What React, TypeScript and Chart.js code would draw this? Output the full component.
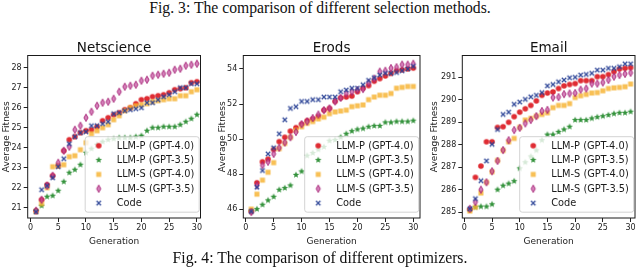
import React, { useEffect, useRef } from "react";
import { Chart, registerables } from "chart.js";

Chart.register(...registerables);
Chart.defaults.font.family = "'DejaVu Sans', sans-serif";
Chart.defaults.color = "#222";

// ---------- data ----------
const generations = [1, 2, 3, 4, 5, 6, 7, 8, 9, 10, 11, 12, 13, 14, 15, 16, 17, 18, 19, 20, 21, 22, 23, 24, 25, 26, 27, 28, 29, 30];
const xTickValues = [0, 5, 10, 15, 20, 25, 30];
const seriesLabels = ["LLM-P (GPT-4.0)", "LLM-P (GPT-3.5)", "LLM-S (GPT-4.0)", "LLM-S (GPT-3.5)", "Code"];
const panelTitles = ["Netscience", "Erods", "Email"];

const netLlmP4 = [20.85, 21.4, 22.15, 22.6, 23.1, 23.85, 24.4, 24.55, 24.75, 24.85, 24.9, 25.05, 25.35, 25.5, 25.65, 25.75, 25.9, 26.0, 26.2, 26.4, 26.45, 26.55, 26.6, 26.65, 26.75, 26.9, 26.95, 27.0, 27.25, 27.3];
const netLlmP35 = [20.85, 21.1, 21.55, 21.6, 21.85, 22.3, 22.75, 22.9, 23.15, 23.75, 23.95, 24.15, 24.3, 24.4, 24.45, 24.5, 24.5, 24.5, 24.55, 24.6, 24.85, 25.0, 25.0, 25.05, 25.05, 25.05, 25.15, 25.3, 25.45, 25.65];
const netLlmS4 = [20.8, 21.2, 22.0, 23.05, 23.1, 23.15, 23.55, 23.6, 23.9, 24.25, 24.7, 24.85, 25.0, 25.15, 25.4, 25.6, 25.85, 26.0, 26.1, 26.15, 26.2, 26.3, 26.35, 26.4, 26.45, 26.45, 26.6, 26.6, 26.8, 26.9];
const netLlmS35 = [20.85, 21.4, 22.1, 22.6, 23.25, 23.85, 24.05, 24.9, 25.1, 25.5, 25.8, 26.1, 26.25, 26.3, 26.45, 26.8, 27.05, 27.1, 27.15, 27.35, 27.4, 27.6, 27.65, 27.7, 27.75, 27.9, 27.95, 28.1, 28.15, 28.2];
const netCode = [20.8, 21.9, 22.1, 22.5, 23.05, 23.45, 24.2, 24.55, 24.75, 24.8, 25.1, 25.1, 25.2, 25.3, 25.7, 25.75, 25.85, 25.9, 25.95, 26.0, 26.25, 26.25, 26.4, 26.55, 26.65, 26.8, 27.0, 27.0, 27.2, 27.2];
const netYTicks = [21, 22, 23, 24, 25, 26, 27, 28];

const erLlmP4 = [45.87, 47.5, 48.7, 48.85, 49.4, 49.85, 50.1, 50.45, 50.65, 50.85, 51.05, 51.15, 51.3, 51.65, 51.75, 52.15, 52.35, 52.4, 52.45, 52.7, 52.9, 53.05, 53.3, 53.45, 53.6, 53.75, 53.9, 53.95, 54.0, 54.05];
const erLlmP35 = [45.87, 46.0, 46.25, 46.5, 46.7, 47.1, 47.2, 47.35, 47.95, 48.15, 49.05, 49.2, 49.4, 49.55, 49.9, 49.95, 50.1, 50.3, 50.45, 50.55, 50.6, 50.7, 50.75, 50.75, 50.95, 50.95, 51.0, 51.0, 51.0, 51.05];
const erLlmS4 = [46.0, 46.85, 47.65, 48.1, 48.65, 49.45, 49.75, 50.1, 50.5, 50.7, 50.9, 51.0, 51.15, 51.25, 51.45, 51.55, 51.6, 51.65, 51.85, 51.9, 51.95, 52.25, 52.4, 52.5, 52.5, 52.6, 52.9, 52.95, 53.0, 53.0];
const erLlmS35 = [45.83, 47.35, 48.5, 48.7, 49.15, 49.5, 49.8, 50.1, 50.4, 50.85, 51.0, 51.2, 51.4, 51.65, 51.75, 52.15, 52.35, 52.6, 52.7, 52.8, 52.85, 53.2, 53.45, 53.85, 53.9, 54.05, 54.1, 54.25, 54.25, 54.3];
const erCode = [45.87, 47.25, 48.2, 49.15, 49.5, 50.3, 51.1, 51.75, 51.85, 52.15, 52.15, 52.25, 52.25, 52.4, 52.4, 52.4, 52.7, 52.8, 52.9, 52.9, 53.1, 53.35, 53.5, 53.65, 53.75, 53.75, 53.8, 53.9, 54.0, 54.15];
const erYTicks = [46, 48, 50, 52, 54];

const emLlmP4 = [285.12, 286.55, 287.05, 288.13, 288.13, 288.77, 288.8, 289.0, 289.25, 289.45, 289.6, 289.75, 289.95, 290.2, 290.3, 290.35, 290.5, 290.62, 290.68, 290.72, 290.85, 290.85, 290.85, 291.03, 291.03, 291.12, 291.25, 291.37, 291.4, 291.43];
const emLlmP35 = [285.12, 285.22, 285.25, 285.25, 285.35, 286.0, 286.18, 286.27, 286.38, 286.95, 287.22, 287.48, 287.75, 288.2, 288.45, 288.45, 288.57, 288.68, 288.8, 289.1, 289.1, 289.1, 289.17, 289.23, 289.27, 289.32, 289.38, 289.42, 289.42, 289.47];
const emLlmS4 = [285.05, 285.22, 285.85, 286.33, 286.8, 287.3, 287.75, 288.13, 288.28, 288.77, 289.1, 289.17, 289.27, 289.35, 289.42, 289.65, 289.75, 289.75, 289.83, 290.1, 290.18, 290.24, 290.3, 290.32, 290.4, 290.5, 290.53, 290.55, 290.58, 290.7];
const emLlmS35 = [285.15, 285.45, 286.0, 286.33, 286.82, 287.28, 287.76, 288.2, 288.65, 288.75, 288.95, 289.1, 289.27, 289.5, 289.55, 290.1, 290.12, 290.25, 290.28, 290.3, 290.45, 290.5, 290.72, 290.72, 290.77, 290.88, 291.03, 291.1, 291.15, 291.2];
const emCode = [285.15, 285.6, 286.4, 287.28, 288.02, 288.68, 289.35, 289.45, 289.8, 289.9, 290.02, 290.13, 290.2, 290.32, 290.62, 290.68, 290.8, 290.88, 290.98, 291.0, 291.1, 291.13, 291.18, 291.32, 291.32, 291.4, 291.4, 291.47, 291.6, 291.6];
const emYTicks = [285, 286, 287, 288, 289, 290, 291];

// ---------- markers ----------
type MarkerKind = "circle" | "star" | "square" | "diamond" | "x";
const markerKinds: MarkerKind[] = ["circle", "star", "square", "diamond", "x"];

function makeMarker(kind: MarkerKind): HTMLCanvasElement {
  const c = document.createElement("canvas");
  c.width = 12;
  c.height = 12;
  const ctx = c.getContext("2d")!;
  const cx = 6, cy = 6;
  ctx.lineJoin = "miter";
  if (kind === "circle") {
    ctx.beginPath();
    ctx.arc(cx, cy, 2.8, 0, Math.PI * 2);
    ctx.fillStyle = "rgba(220,26,34,0.92)";
    ctx.fill();
  } else if (kind === "star") {
    ctx.beginPath();
    for (let i = 0; i < 10; i++) {
      const r = i % 2 === 0 ? 3.4 : 1.5;
      const a = -Math.PI / 2 + (i * Math.PI) / 5;
      const px = cx + r * Math.cos(a), py = cy + r * Math.sin(a);
      if (i === 0) ctx.moveTo(px, py); else ctx.lineTo(px, py);
    }
    ctx.closePath();
    ctx.fillStyle = "rgba(40,140,48,0.95)";
    ctx.fill();
  } else if (kind === "square") {
    ctx.fillStyle = "rgba(246,178,48,0.82)";
    ctx.fillRect(cx - 2.5, cy - 2.5, 5, 5);
  } else if (kind === "diamond") {
    ctx.beginPath();
    ctx.moveTo(cx, cy - 3.7);
    ctx.lineTo(cx + 2.1, cy);
    ctx.lineTo(cx, cy + 3.7);
    ctx.lineTo(cx - 2.1, cy);
    ctx.closePath();
    ctx.fillStyle = "rgba(196,80,160,0.72)";
    ctx.fill();
    ctx.strokeStyle = "rgba(165,32,115,0.95)";
    ctx.lineWidth = 0.9;
    ctx.stroke();
  } else {
    ctx.beginPath();
    ctx.moveTo(cx - 2.2, cy - 2.2);
    ctx.lineTo(cx + 2.2, cy + 2.2);
    ctx.moveTo(cx + 2.2, cy - 2.2);
    ctx.lineTo(cx - 2.2, cy + 2.2);
    ctx.strokeStyle = "rgba(42,66,150,0.95)";
    ctx.lineWidth = 1.3;
    ctx.stroke();
  }
  return c;
}

// ---------- panels ----------
type PanelCfg = {
  title: string;
  series: number[][];
  yTicks: number[];
  left: number;
  width: number;
  plotLeft: number;
  plotRight: number;
  xMin: number;
  xMax: number;
  yMin: number;
  yMax: number;
  yTitlePad: number;
};

const PLOT_TOP = 55.5;
const PLOT_BOTTOM = 218;
const X_AXIS_H = 30;
const H = 273;

const panels: PanelCfg[] = [
  { title: panelTitles[0], series: [netLlmP4, netLlmP35, netLlmS4, netLlmS35, netCode], yTicks: netYTicks,
    left: 0, width: 210, plotLeft: 27.7, plotRight: 200.5, xMin: -0.5, xMax: 30.65, yMin: 20.485, yMax: 28.61, yTitlePad: 1.6 },
  { title: panelTitles[1], series: [erLlmP4, erLlmP35, erLlmS4, erLlmS35, erCode], yTicks: erYTicks,
    left: 210, width: 215, plotLeft: 243.3, plotRight: 420.7, xMin: -0.43, xMax: 31.2, yMin: 45.49, yMax: 54.77, yTitlePad: 7.3 },
  { title: panelTitles[2], series: [emLlmP4, emLlmP35, emLlmS4, emLlmS35, emCode], yTicks: emYTicks,
    left: 425, width: 215, plotLeft: 462.3, plotRight: 635, xMin: -0.36, xMax: 30.8, yMin: 284.74, yMax: 291.97, yTitlePad: 4.6 },
];

function roundRectPath(ctx: CanvasRenderingContext2D, x: number, y: number, w: number, h: number, r: number) {
  ctx.beginPath();
  ctx.moveTo(x + r, y);
  ctx.lineTo(x + w - r, y);
  ctx.arcTo(x + w, y, x + w, y + r, r);
  ctx.lineTo(x + w, y + h - r);
  ctx.arcTo(x + w, y + h, x + w - r, y + h, r);
  ctx.lineTo(x + r, y + h);
  ctx.arcTo(x, y + h, x, y + h - r, r);
  ctx.lineTo(x, y + r);
  ctx.arcTo(x, y, x + r, y, r);
  ctx.closePath();
}

function Panel({ cfg }: { cfg: PanelCfg }) {
  const ref = useRef<HTMLCanvasElement>(null);
  useEffect(() => {
    const markers = markerKinds.map(makeMarker);
    const decor = {
      id: "decor",
      afterDatasetsDraw(chart: any) {
        const ctx: CanvasRenderingContext2D = chart.ctx;
        const a = chart.chartArea;
        ctx.save();
        // frame
        ctx.strokeStyle = "#1a1a1a";
        ctx.lineWidth = 1;
        ctx.strokeRect(a.left, a.top, a.right - a.left, a.bottom - a.top);
        // title
        ctx.fillStyle = "#111";
        ctx.font = "13.5px 'DejaVu Sans', sans-serif";
        ctx.textAlign = "center";
        ctx.textBaseline = "alphabetic";
        ctx.fillText(cfg.title, (a.left + a.right) / 2, 51.5);
        // legend
        const lw = 114, lh = 75.5;
        const lx = a.right - 1.3 - lw;
        const ly = a.bottom - 5.8 - lh;
        roundRectPath(ctx, lx, ly, lw, lh, 2.5);
        ctx.fillStyle = "rgba(255,255,255,0.8)";
        ctx.fill();
        ctx.strokeStyle = "rgba(200,200,200,0.9)";
        ctx.lineWidth = 0.9;
        ctx.stroke();
        ctx.font = "9.8px 'DejaVu Sans', sans-serif";
        ctx.textAlign = "left";
        ctx.textBaseline = "middle";
        ctx.fillStyle = "#1a1a1a";
        seriesLabels.forEach((lab, i) => {
          const yy = ly + 9 + i * 14.35;
          const m = markers[i];
          ctx.drawImage(m, lx + 13.5 - m.width / 2, yy - m.height / 2);
          ctx.fillText(lab, lx + 31.5, yy + 0.5);
        });
        ctx.restore();
      },
    };
    const chart = new Chart(ref.current!, {
      type: "scatter",
      data: {
        datasets: cfg.series.map((vals, i) => ({
          label: seriesLabels[i],
          data: generations.map((g, j) => ({ x: g, y: vals[j] })),
          pointStyle: markers[i] as any,
          pointRadius: 3,
          order: 5 - i,
        })),
      },
      options: {
        animation: false,
        responsive: false,
        events: [],
        layout: {
          padding: {
            left: 0,
            right: cfg.left + cfg.width - cfg.plotRight,
            top: PLOT_TOP,
            bottom: H - PLOT_BOTTOM - X_AXIS_H,
          },
        },
        plugins: { legend: { display: false }, tooltip: { enabled: false }, title: { display: false } },
        scales: {
          x: {
            type: "linear",
            min: cfg.xMin,
            max: cfg.xMax,
            afterBuildTicks: (s: any) => { s.ticks = xTickValues.map((v) => ({ value: v })); },
            afterFit: (s: any) => { s.height = X_AXIS_H; },
            grid: { display: true, drawOnChartArea: false, drawTicks: true, tickLength: 4, tickColor: "#222", color: "#222" },
            border: { display: false },
            ticks: { font: { size: 8 }, padding: 1, color: "#222", maxRotation: 0, callback: (v: any) => String(v) },
            title: { display: true, text: "Generation", font: { size: 9 }, color: "#222", padding: { top: 0, bottom: 1.1 } },
          },
          y: {
            type: "linear",
            min: cfg.yMin,
            max: cfg.yMax,
            afterBuildTicks: (s: any) => { s.ticks = cfg.yTicks.map((v) => ({ value: v })); },
            afterFit: (s: any) => { s.width = cfg.plotLeft - cfg.left; },
            grid: { display: true, drawOnChartArea: false, drawTicks: true, tickLength: 4, tickColor: "#222", color: "#222" },
            border: { display: false },
            ticks: { font: { size: 8 }, padding: 2, color: "#222", callback: (v: any) => String(v) },
            title: { display: true, text: "Average Fitness", font: { size: 9 }, color: "#222", padding: { top: cfg.yTitlePad, bottom: 0 } },
          },
        },
      },
      plugins: [decor],
    } as any);
    return () => chart.destroy();
  }, []);
  return (
    <canvas
      ref={ref}
      width={cfg.width}
      height={H}
      style={{ position: "absolute", left: cfg.left, top: 0, width: cfg.width, height: H }}
    />
  );
}

const captionTop = "Fig. 3: The comparison of different selection methods.";
const captionBottom = "Fig. 4: The comparison of different optimizers.";

export default function App() {
  const capStyle: React.CSSProperties = {
    position: "absolute",
    left: 0,
    width: 640,
    textAlign: "center",
    fontFamily: "'Liberation Serif', 'Times New Roman', serif",
    fontSize: 15.7,
    lineHeight: "18px",
    color: "#111",
    whiteSpace: "nowrap",
  };
  return (
    <div style={{ position: "fixed", left: 0, top: 0, width: 640, height: H, background: "#fff", overflow: "hidden" }}>
      <div style={{ ...capStyle, top: -1 }}>{captionTop}</div>
      {panels.map((p, i) => (
        <Panel key={i} cfg={p} />
      ))}
      <div style={{ ...capStyle, top: 249 }}>{captionBottom}</div>
    </div>
  );
}
